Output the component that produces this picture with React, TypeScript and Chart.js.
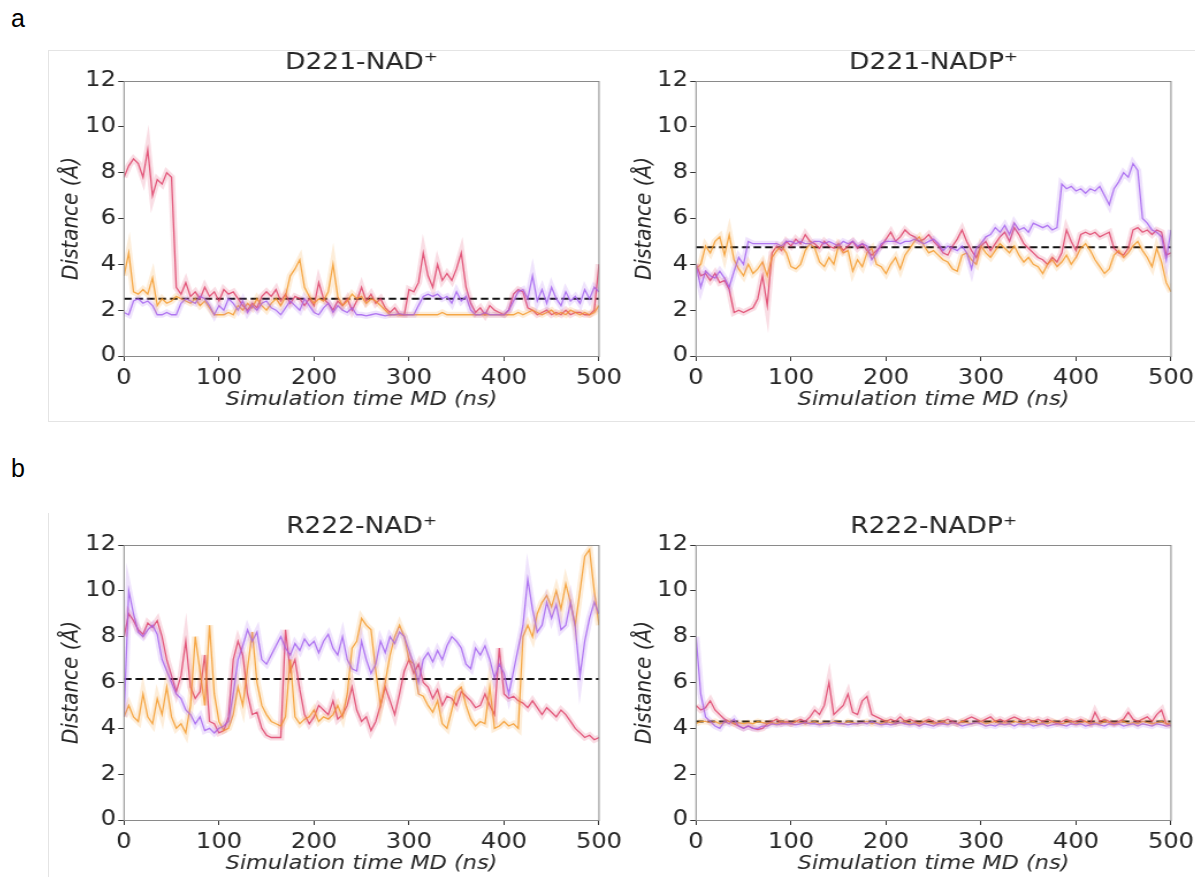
import React, { useEffect, useRef } from 'react';
import { Chart, registerables } from 'chart.js';

Chart.register(...registerables);

// ---------------- data (sampled every 5 ns, 0..500 ns) ----------------
const STEP_NS = 5;
const X_MIN = 0;
const X_MAX = 500;
const Y_MIN = 0;
const Y_MAX = 12;
const X_STEP = 100;
const Y_STEP = 2;

const TITLES = ['D221-NAD⁺', 'D221-NADP⁺', 'R222-NAD⁺', 'R222-NADP⁺'];
const REF_LEVELS = [2.5, 4.75, 6.15, 4.3];
const PANEL_LETTERS = ['a', 'b'];
const X_TITLE = 'Simulation time MD (ns)';
const Y_TITLE = 'Distance (Å)';

// Panel a – D221-NAD+
const d221NadRed = [
  7.8, 8.3, 8.6, 8.4, 7.8, 9.0, 7.0, 7.7, 7.5, 8.0,
  7.8, 3.0, 2.7, 3.2, 2.6, 2.8, 2.5, 3.0, 2.6, 2.8,
  2.4, 2.9, 2.7, 2.8, 2.5, 2.2, 2.0, 2.3, 2.1, 2.6,
  2.8, 2.6, 2.9, 2.4, 2.7, 2.3, 2.6, 2.5, 2.2, 2.5,
  2.2, 3.2, 2.5, 2.3, 2.0, 2.4, 2.2, 2.5, 2.0, 2.4,
  3.0, 2.4, 2.7, 2.3, 2.5, 2.1, 1.9, 2.1, 1.8, 1.8,
  2.9, 2.8, 3.2, 4.5, 3.5, 3.0, 4.0, 3.3, 3.6, 3.3,
  3.8, 4.5, 3.0, 2.3, 1.9, 2.1, 1.8, 2.2, 2.0, 1.9,
  1.8, 2.0, 2.7, 2.9, 2.8, 2.1, 2.0, 1.8, 1.9, 2.0,
  1.8, 1.9, 1.8, 2.0, 1.8, 1.9, 1.9, 1.8, 1.8, 2.0,
  4.0,
];
const d221NadPurple = [
  1.9, 1.8, 2.4, 2.5, 2.3, 2.4, 2.2, 1.8, 1.8, 1.9,
  1.8, 1.8, 2.3, 2.5, 2.4, 2.3, 2.6, 2.5, 2.2, 1.8,
  2.2, 2.0, 2.5, 2.3, 2.0, 2.4, 1.9, 2.2, 2.0, 2.3,
  2.4, 2.1, 2.0, 1.8, 2.1, 2.4, 2.2, 2.0, 2.5, 2.2,
  1.9, 1.8, 2.1, 2.3, 1.9, 2.2, 2.0, 1.9, 2.1, 1.8,
  1.8, 1.75, 1.8, 1.85, 1.8, 1.75, 1.8, 1.8, 1.85, 1.8,
  1.8, 1.8, 2.2, 2.6, 2.7, 2.6, 2.7, 2.5, 2.6, 2.3,
  2.8, 2.4, 2.6, 2.0, 1.8, 1.8, 1.9, 1.8, 1.8, 1.8,
  1.8, 2.0, 2.4, 2.8, 2.9, 2.5, 3.5, 2.4, 2.9, 2.3,
  3.0, 2.5, 2.2, 2.8, 2.4, 2.6, 2.3, 2.9, 2.5, 3.0,
  2.8,
];
const d221NadOrange = [
  3.5, 4.5, 2.8, 2.7, 2.9, 2.7, 3.4, 2.2, 2.5, 2.3,
  2.4, 2.6, 2.5, 2.4, 2.3, 2.5, 2.2, 2.4, 2.1, 1.8,
  1.8, 1.8, 1.9, 1.8, 2.2, 2.0, 2.3, 2.1, 2.5, 2.2,
  2.0, 2.3, 2.5, 2.2, 2.6, 3.5, 3.8, 4.2, 3.0, 2.6,
  2.3, 2.5, 2.4, 2.8, 4.0, 2.6, 2.2, 2.4, 2.7, 2.5,
  2.6, 2.3, 2.5, 2.4, 2.2, 2.0, 1.8, 1.8, 1.8, 1.8,
  1.8, 1.8, 1.8, 1.8, 1.8, 1.8, 1.8, 1.9, 1.8, 1.8,
  1.8, 1.8, 1.8, 1.8, 1.8, 1.8, 1.8, 1.8, 1.8, 1.8,
  1.8, 1.8, 1.8, 1.9, 1.8, 1.9, 2.0, 1.9, 1.8, 1.9,
  2.0, 1.8, 1.9, 1.8, 2.0, 1.9, 1.8, 1.9, 1.8, 1.9,
  2.2,
];

// Panel a – D221-NADP+
const d221NadpRed = [
  4.0, 3.5, 3.6, 3.3, 3.6, 3.2, 3.3, 2.9, 1.9, 2.0,
  1.9, 2.0, 2.1, 2.5, 3.5, 2.2, 4.5, 4.8, 4.6, 5.0,
  4.8, 5.1, 4.9, 5.3, 5.0, 4.9, 4.7, 5.0, 4.8, 4.7,
  4.9, 4.6, 4.8, 5.0, 4.7, 4.9, 4.6, 4.4, 4.6, 4.8,
  5.1, 5.4, 5.0, 5.2, 5.5, 5.3, 5.2, 5.0, 5.1, 5.3,
  5.0, 4.8, 4.5, 4.4, 4.8, 5.1, 5.5, 5.0, 4.6, 4.3,
  4.8, 5.0, 4.6, 4.9, 5.2, 5.4, 5.0, 5.6, 5.3, 4.9,
  4.7, 4.5, 4.3, 4.2, 4.0, 4.3, 4.1, 4.5, 5.5, 5.0,
  4.6, 5.3, 5.4, 5.3, 5.4, 5.2, 5.3, 5.4, 4.7, 4.5,
  4.4, 4.7, 5.5, 5.6, 5.4, 5.5, 5.3, 5.5, 5.4, 4.4,
  4.5,
];
const d221NadpPurple = [
  4.0, 3.0, 3.7, 3.5, 3.4, 3.7, 3.4, 3.0, 3.7, 4.3,
  4.0, 5.0, 4.9, 4.9, 4.9, 4.9, 4.9, 4.9, 4.8, 5.0,
  5.0, 4.9, 5.0, 4.9, 4.9, 5.0, 5.0, 4.9, 5.0, 4.9,
  4.8, 5.0, 4.9, 5.0, 4.8, 4.9, 4.8, 4.2, 4.5, 4.9,
  5.0, 5.0, 5.0, 4.9, 5.0, 5.0, 5.1, 5.0, 4.9, 5.0,
  5.1, 4.9, 4.6, 4.8, 4.7, 4.6, 4.8, 4.5, 3.8, 4.7,
  4.9, 5.2, 5.3, 5.6, 5.4, 5.7, 5.3, 5.8, 5.5, 5.6,
  5.4, 5.8, 5.7, 5.6, 5.7, 5.5, 5.6, 7.5, 7.3, 7.4,
  7.2, 7.3, 7.1, 7.3, 7.2, 7.4, 7.0, 6.6, 7.3, 7.6,
  8.0, 7.8, 8.4, 8.1, 6.0, 5.8, 5.5, 5.4, 5.2, 4.2,
  5.5,
];
const d221NadpOrange = [
  3.8, 4.0, 4.8, 4.5, 5.0, 5.2, 4.4, 5.3, 4.2, 3.8,
  3.5, 4.0, 3.6, 3.8, 4.1, 3.5, 4.3, 4.6, 4.8, 4.5,
  3.9, 3.8, 4.0, 4.6, 4.9, 4.7, 4.1, 3.9, 4.3, 4.0,
  4.8, 4.5, 4.6, 3.7, 4.2, 3.9, 4.5, 4.7, 4.0, 3.9,
  3.6, 4.0, 4.3, 3.8, 4.4, 4.7, 5.0, 5.2, 4.8, 4.5,
  4.6, 4.4, 4.2, 4.1, 3.8, 3.7, 4.4, 4.5, 4.2, 4.0,
  4.8, 4.5, 4.3, 4.6, 4.9, 4.7, 4.5, 4.8, 4.4, 4.1,
  4.3, 4.0, 3.9, 3.6, 4.0, 4.2, 3.9, 4.1, 4.4, 4.0,
  4.3, 4.7, 4.9, 4.6, 4.2, 3.9, 3.6, 3.8, 4.4, 4.6,
  4.3, 4.5, 4.8, 5.0, 4.6, 4.3, 3.9, 4.7, 4.1, 3.2,
  2.8,
];

// Panel b – R222-NAD+
const r222NadRed = [
  8.0, 9.0, 8.7, 8.3, 8.1, 8.6, 8.4, 8.7, 8.0, 7.0,
  6.3, 5.6, 6.3, 7.8, 5.8, 5.3, 5.6, 7.2, 4.3, 4.2,
  3.8, 3.9, 4.5, 7.0, 7.8, 7.2, 5.5, 4.6, 4.7, 4.0,
  3.7, 3.6, 3.6, 3.6, 8.3, 6.5, 7.0, 5.7, 4.6, 4.2,
  4.5, 5.0, 4.8, 4.6, 5.2, 4.4, 4.6, 5.0, 5.8, 4.8,
  4.3, 4.5, 3.9, 4.3, 5.0, 5.8, 5.2, 4.6, 5.5, 6.5,
  7.0, 6.4, 6.8, 6.0, 5.8, 5.3, 5.7, 5.0, 5.4, 5.3,
  5.0, 5.6, 5.4, 5.2, 4.9, 5.0, 5.5, 5.0, 4.6, 7.5,
  5.5, 5.3, 5.4, 5.2, 5.1, 4.9, 5.2, 4.9, 4.6, 4.9,
  4.7, 4.5, 4.8, 4.6, 4.3, 4.0, 3.8, 3.6, 3.7, 3.5,
  3.6,
];
const r222NadPurple = [
  4.5, 10.0, 9.0, 8.2, 8.0, 8.3, 8.5, 8.1, 7.0, 6.5,
  6.0, 5.5, 5.3, 4.8, 4.6, 4.2, 4.5, 3.9, 4.0, 3.8,
  4.0, 4.1, 4.3, 5.5, 7.0, 7.6, 8.3, 7.8, 8.2, 7.0,
  6.8, 7.2, 7.6, 8.0, 7.5, 7.2, 7.7, 7.4, 7.9, 7.6,
  7.8, 7.3, 7.8, 8.1, 7.5, 7.2, 8.0, 7.0, 6.6, 6.5,
  7.8, 7.0, 6.4, 6.8, 7.8, 7.3, 8.0, 7.7, 8.2, 8.0,
  7.4, 6.8, 6.0, 7.0, 7.3, 6.9, 7.4, 7.0, 7.6, 8.0,
  7.8, 7.5, 6.8, 6.6, 7.5, 7.2, 7.6, 7.0, 6.2, 6.8,
  6.4, 5.5, 6.5, 7.5, 8.5, 10.5, 9.2, 8.2, 8.5, 9.5,
  8.8, 9.4, 8.3, 8.5, 9.5, 8.4, 6.3, 7.8, 8.8, 9.5,
  9.0,
];
const r222NadOrange = [
  4.5, 5.0, 4.5, 4.3, 5.5, 4.5, 4.2, 5.3, 4.6, 5.8,
  4.5, 4.0, 4.2, 3.8, 5.0, 8.0, 6.5, 5.0, 8.5, 5.5,
  4.3, 3.9, 4.0, 4.6, 5.8, 5.0, 6.6, 8.2, 6.0, 5.0,
  4.6, 4.3, 4.2, 4.1, 4.5, 7.0, 4.5, 4.2, 4.4, 4.5,
  4.8, 4.3, 4.5, 4.4, 4.6, 5.0, 4.5, 5.5, 7.5, 7.8,
  8.8, 8.5, 8.3, 6.5, 5.0, 6.0, 7.2, 8.0, 8.5, 8.0,
  7.0, 6.8, 5.5, 5.4, 5.0, 4.7, 5.2, 4.2, 4.0, 4.8,
  5.6, 5.8, 5.0, 4.4, 4.1, 4.3, 4.2, 5.8, 4.0, 4.1,
  4.3, 4.1, 4.2, 4.0, 8.0, 8.5, 8.0, 9.0, 9.5, 9.8,
  9.3, 10.0, 9.2, 10.3, 9.5, 8.5, 10.0, 11.5, 11.8, 10.0,
  8.5,
];

// Panel b – R222-NADP+
const r222NadpRed = [
  5.0, 4.8, 4.9, 5.2, 4.8, 4.6, 4.4, 4.3, 4.2, 4.1,
  4.0, 4.1, 4.0, 3.95, 4.0, 4.2, 4.3, 4.4, 4.2, 4.3,
  4.2, 4.3, 4.4, 4.3, 4.5, 4.8, 4.6, 5.0, 6.0, 4.6,
  4.8, 5.0, 5.5, 4.7, 4.6, 5.2, 5.4, 4.6, 4.5, 4.4,
  4.3, 4.4, 4.3, 4.5, 4.3, 4.4, 4.3, 4.2, 4.3, 4.4,
  4.3, 4.2, 4.3, 4.4, 4.3, 4.2, 4.3, 4.4, 4.5, 4.4,
  4.3, 4.4, 4.5, 4.3, 4.4, 4.3, 4.4, 4.5, 4.4, 4.3,
  4.4, 4.3, 4.4, 4.3, 4.4, 4.3, 4.2, 4.3, 4.4, 4.3,
  4.3, 4.4, 4.3, 4.2, 4.7, 4.3, 4.4, 4.3, 4.2, 4.3,
  4.4, 4.7, 4.4, 4.3, 4.4, 4.5, 4.3, 4.6, 4.8, 4.2,
  4.1,
];
const r222NadpPurple = [
  8.0, 5.5, 4.5, 4.3, 4.1, 4.0, 4.3, 4.2, 4.4, 4.1,
  4.0, 4.1, 4.0, 4.0, 4.1, 4.1, 4.2, 4.15, 4.2, 4.2,
  4.2, 4.15, 4.2, 4.25, 4.2, 4.2, 4.15, 4.2, 4.2, 4.25,
  4.2, 4.2, 4.15, 4.2, 4.2, 4.25, 4.2, 4.3, 4.2, 4.15,
  4.2, 4.15, 4.2, 4.25, 4.2, 4.15, 4.2, 4.1, 4.2, 4.15,
  4.1, 4.2, 4.2, 4.15, 4.25, 4.2, 4.1, 4.15, 4.2, 4.25,
  4.2, 4.1, 4.15, 4.1, 4.2, 4.15, 4.2, 4.1, 4.2, 4.15,
  4.2, 4.1, 4.15, 4.2, 4.1, 4.15, 4.2, 4.15, 4.1, 4.2,
  4.15, 4.2, 4.1, 4.15, 4.2, 4.15, 4.1, 4.2, 4.15, 4.2,
  4.1, 4.15, 4.2, 4.1, 4.2, 4.15, 4.1, 4.2, 4.15, 4.1,
  4.15,
];
const r222NadpOrange = [
  4.2, 4.3, 4.3, 4.25, 4.3, 4.2, 4.25, 4.3, 4.2, 4.25,
  4.2, 4.25, 4.2, 4.3, 4.25, 4.2, 4.25, 4.2, 4.3, 4.25,
  4.2, 4.3, 4.25, 4.2, 4.25, 4.3, 4.2, 4.25, 4.2, 4.3,
  4.25, 4.2, 4.3, 4.25, 4.2, 4.25, 4.3, 4.2, 4.25, 4.2,
  4.3, 4.25, 4.2, 4.25, 4.3, 4.2, 4.25, 4.2, 4.3, 4.25,
  4.2, 4.25, 4.3, 4.2, 4.25, 4.2, 4.3, 4.25, 4.2, 4.25,
  4.3, 4.2, 4.25, 4.3, 4.2, 4.25, 4.2, 4.3, 4.25, 4.2,
  4.25, 4.3, 4.2, 4.25, 4.2, 4.3, 4.25, 4.2, 4.25, 4.3,
  4.2, 4.25, 4.3, 4.2, 4.25, 4.2, 4.3, 4.25, 4.2, 4.25,
  4.3, 4.2, 4.25, 4.2, 4.3, 4.25, 4.2, 4.25, 4.3, 4.2,
  4.2,
];

// ---------------- styling / layout ----------------
const FONT = "'DejaVu Sans', 'Liberation Sans', sans-serif";
const TEXT_COLOR = '#262626';
const SERIES_RGB = {
  purple: '165, 100, 240',
  orange: '245, 155, 45',
  red: '222, 65, 105',
};

type Series = { red: number[]; purple: number[]; orange: number[] };

const PANELS: { title: string; ref: number; series: Series; left: number; top: number; yTitlePad: number }[] = [
  { title: TITLES[0], ref: REF_LEVELS[0], series: { red: d221NadRed, purple: d221NadPurple, orange: d221NadOrange }, left: 50, top: 39, yTitlePad: 6.5 },
  { title: TITLES[1], ref: REF_LEVELS[1], series: { red: d221NadpRed, purple: d221NadpPurple, orange: d221NadpOrange }, left: 622, top: 39, yTitlePad: 7.5 },
  { title: TITLES[2], ref: REF_LEVELS[2], series: { red: r222NadRed, purple: r222NadPurple, orange: r222NadOrange }, left: 50, top: 503, yTitlePad: 6.5 },
  { title: TITLES[3], ref: REF_LEVELS[3], series: { red: r222NadpRed, purple: r222NadpPurple, orange: r222NadpOrange }, left: 622, top: 503, yTitlePad: 7.5 },
];

// display sizes (px on page)
const Y_AXIS_W = 74;
const PLOT_W = 475;
const PAD_RIGHT = 30;
const CANVAS_W = Y_AXIS_W + PLOT_W + PAD_RIGHT; // 579
const CANVAS_H = 374;
const X_AXIS_H = 57;
// glyphs in the figure are wider than tall: draw narrower, then stretch horizontally
const CANVAS_INT_W = 503;
const HS = CANVAS_W / CANVAS_INT_W;

const toPoints = (vals: number[]) => vals.map((v, i) => ({ x: i * STEP_NS, y: v }));

const framePlugin = {
  id: 'frameBox',
  afterDatasetsDraw(chart: any) {
    const { ctx, chartArea } = chart;
    ctx.save();
    ctx.strokeStyle = '#8a8a8a';
    ctx.lineWidth = 1;
    ctx.strokeRect(chartArea.left, Math.round(chartArea.top) + 0.5, chartArea.right - chartArea.left, Math.round(chartArea.bottom - chartArea.top));
    ctx.restore();
  },
};

function Panel({ title, refLevel, series, yTitlePad }: { title: string; refLevel: number; series: Series; yTitlePad: number }) {
  const ref = useRef<HTMLCanvasElement | null>(null);
  useEffect(() => {
    if (!ref.current) return;
    const order: (keyof Series)[] = ['purple', 'orange', 'red'];
    const bands = order.map((k) => ({
      data: toPoints(series[k]),
      borderColor: `rgba(${SERIES_RGB[k]}, 0.18)`,
      borderWidth: 6,
      pointRadius: 0,
      tension: 0,
      fill: false,
    }));
    const lines = order.map((k) => ({
      data: toPoints(series[k]),
      borderColor: `rgba(${SERIES_RGB[k]}, 0.85)`,
      borderWidth: 1.3,
      pointRadius: 0,
      tension: 0,
      fill: false,
    }));
    const dashed = {
      data: [
        { x: X_MIN, y: refLevel },
        { x: X_MAX, y: refLevel },
      ],
      borderColor: '#111111',
      borderWidth: 2,
      borderDash: [6.5, 3.5],
      pointRadius: 0,
      fill: false,
    };
    const tickFont = { family: FONT, size: 21 };
    const chart = new Chart(ref.current, {
      type: 'line',
      data: { datasets: [...bands, ...lines, dashed] as any },
      options: {
        animation: false,
        responsive: false,
        devicePixelRatio: 1,
        layout: { padding: { left: 0, right: PAD_RIGHT / HS, top: 0, bottom: 0 } },
        plugins: {
          legend: { display: false },
          tooltip: { enabled: false },
          title: {
            display: true,
            text: title,
            fullSize: false,
            color: TEXT_COLOR,
            font: { family: FONT, size: 23, weight: 'normal' as any, lineHeight: 1.2 },
            padding: { top: 10, bottom: 42 - 10 - 23 * 1.2 },
          },
        },
        scales: {
          x: {
            type: 'linear',
            min: X_MIN,
            max: X_MAX,
            ticks: { stepSize: X_STEP, color: TEXT_COLOR, font: tickFont, padding: 5, maxRotation: 0 },
            grid: { drawOnChartArea: false, drawTicks: true, tickLength: 5, color: '#333333' },
            border: { display: false },
            title: {
              display: true,
              text: X_TITLE,
              color: TEXT_COLOR,
              font: { family: FONT, size: 19.5, style: 'italic', lineHeight: 1.2 },
              padding: { top: 0, bottom: 1 },
            },
            afterFit: (s: any) => {
              s.height = X_AXIS_H;
            },
          },
          y: {
            type: 'linear',
            min: Y_MIN,
            max: Y_MAX,
            ticks: { stepSize: Y_STEP, color: TEXT_COLOR, font: tickFont, padding: 2 },
            grid: { drawOnChartArea: false, drawTicks: true, tickLength: 5, color: '#333333' },
            border: { display: false },
            title: {
              display: true,
              text: Y_TITLE,
              color: TEXT_COLOR,
              font: { family: FONT, size: 20, style: 'italic', lineHeight: 1.2 },
              padding: { top: yTitlePad, bottom: 0 },
            },
            afterFit: (s: any) => {
              s.width = Y_AXIS_W / HS;
            },
          },
        },
      } as any,
      plugins: [framePlugin],
    });
    return () => chart.destroy();
  }, [title, refLevel, series, yTitlePad]);
  return (
    <canvas
      ref={ref}
      width={CANVAS_INT_W}
      height={CANVAS_H}
      style={{ display: 'block', width: CANVAS_W, height: CANVAS_H }}
    />
  );
}

export default function App() {
  const letterStyle: React.CSSProperties = {
    position: 'absolute',
    left: 11,
    fontSize: 25,
    lineHeight: 'normal',
    color: '#000',
    fontFamily: "'Liberation Sans', Arial, sans-serif",
  };
  return (
    <div
      style={{
        position: 'absolute',
        left: 0,
        top: 0,
        width: 1195,
        height: 877,
        overflow: 'hidden',
        background: '#ffffff',
        fontFamily: FONT,
      }}
    >
      <div style={{ position: 'absolute', left: 48, top: 50, width: 1160, height: 370, border: '1px solid #e4e4e4' }} />
      <div style={{ position: 'absolute', left: 48, top: 513, width: 1, height: 370, background: '#e4e4e4' }} />
      <div style={{ ...letterStyle, top: 4 }}>{PANEL_LETTERS[0]}</div>
      <div style={{ ...letterStyle, top: 454 }}>{PANEL_LETTERS[1]}</div>
      {PANELS.map((p, i) => (
        <div key={i} style={{ position: 'absolute', left: p.left, top: p.top, width: CANVAS_W, height: CANVAS_H }}>
          <Panel title={p.title} refLevel={p.ref} series={p.series} yTitlePad={p.yTitlePad} />
        </div>
      ))}
    </div>
  );
}
